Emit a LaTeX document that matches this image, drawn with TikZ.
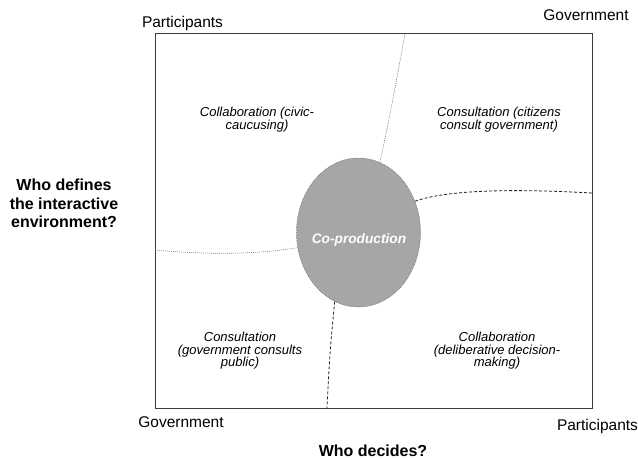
\documentclass[tikz,border=0pt]{standalone}
\usepackage{fontspec}
\setmainfont{Liberation Sans}
\usepackage{tikz}
\usetikzlibrary{shapes.geometric}
\definecolor{copfill}{RGB}{166,166,166}
\definecolor{copedge}{RGB}{110,110,110}
\definecolor{framecol}{RGB}{60,60,60}
\tikzstyle{axislabel} = [font=\fontsize{15.5}{18}\selectfont, inner sep=0pt, anchor=base]
\tikzstyle{question} = [font=\bfseries\fontsize{16}{18.5}\selectfont, align=center, inner sep=0pt]
\tikzstyle{quad} = [font=\itshape\fontsize{13}{12.6}\selectfont, align=center, inner sep=0pt]
\tikzstyle{blob} = [ellipse, fill=copfill, draw=copedge, line width=0.5pt, dash pattern=on 0.8pt off 0.8pt, minimum width=124pt, minimum height=149pt, inner sep=0pt]
\tikzstyle{softline} = [color=gray, line width=0.6pt, dash pattern=on 1pt off 1pt]
\tikzstyle{hardline} = [color=gray!25!black, line width=0.8pt, dash pattern=on 3pt off 2pt]

\begin{document}
\begin{tikzpicture}[x=1pt, y=-1pt]
	  \useasboundingbox (0,0) rectangle (638,460);
	  \draw [framecol, line width=1pt] (155,34) rectangle (592,408);

	  \node (cop) at (358.5,232.5) [blob] {};
	  \node (coplabel) at (359,243.3) [inner sep=0pt, anchor=base, text=white, font=\bfseries\itshape\fontsize{13.7}{16}\selectfont] {Co-production};

	  \coordinate (topend) at (405,34);
	  \coordinate (rightend) at (592,193);
	  \coordinate (bottomend) at (327,408);
	  \coordinate (leftend) at (155,250);

	  \draw [softline] (cop.73) .. controls (391,110) .. (topend);
	  \draw [hardline] (cop.29) .. controls (450,189) and (520,189) .. (rightend);
	  \draw [hardline] (cop.251) .. controls (330,350) .. (bottomend);
	  \draw [softline] (leftend) .. controls (220,256) and (265,253) .. (cop.194);

	  \node (tl) at (257,119.6) [quad] {Collaboration (civic-\\caucusing)};
	  \node (tr) at (499,119.6) [quad] {Consultation (citizens\\consult government)};
	  \node (bl) at (240,350.9) [quad] {Consultation\\(government consults\\public)};
	  \node (br) at (497,350.9) [quad] {Collaboration\\(deliberative decision-\\making)};

	  \node (ptop) at (182.5,28) [axislabel] {Participants};
	  \node (gtop) at (586,21) [axislabel] {Government};
	  \node (gbot) at (181,427) [axislabel] {Government};
	  \node (pbot) at (597.5,430) [axislabel] {Participants};

	  \node (decides) at (373,456) [question, anchor=base] {Who decides?};
	  \node (defines) at (64,203.7) [question] {Who defines\\the interactive\\environment?};
\end{tikzpicture}
\end{document}
